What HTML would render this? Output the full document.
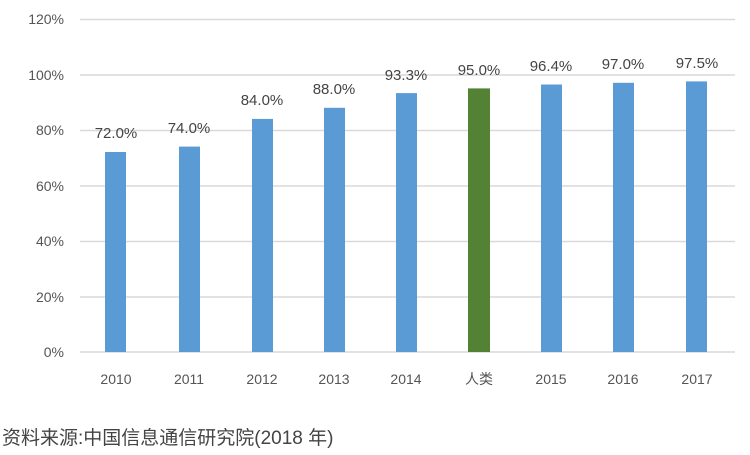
<!DOCTYPE html><html><head><meta charset="utf-8"><style>body{margin:0;background:#fff}svg{display:block}</style></head><body>
<svg width="750" height="455" xmlns="http://www.w3.org/2000/svg" font-family="Liberation Sans, Noto Sans CJK SC, sans-serif">
<g stroke="#d9d9d9" stroke-width="1.5">
<line x1="80" x2="735" y1="19.5" y2="19.5"/><line x1="80" x2="735" y1="75" y2="75"/><line x1="80" x2="735" y1="130.5" y2="130.5"/><line x1="80" x2="735" y1="186" y2="186"/><line x1="80" x2="735" y1="241.5" y2="241.5"/><line x1="80" x2="735" y1="297" y2="297"/><line x1="80" x2="735" y1="352" y2="352"/>
</g>
<g font-size="14" fill="#555" text-anchor="end">
<text x="64" y="24">120%</text><text x="64" y="80">100%</text><text x="64" y="135">80%</text><text x="64" y="191">60%</text><text x="64" y="246">40%</text><text x="64" y="302">20%</text><text x="64" y="357">0%</text>
</g>
<g fill="#5b9bd5">
<rect x="105" y="152" width="21" height="200"/><rect x="179" y="146.6" width="21" height="205.4"/><rect x="252" y="118.9" width="21" height="233.1"/><rect x="324" y="107.8" width="21" height="244.2"/><rect x="396" y="93.1" width="21" height="258.9"/>
<rect x="541" y="84.5" width="21" height="267.5"/><rect x="613" y="82.8" width="21" height="269.2"/><rect x="686" y="81.4" width="21" height="270.6"/>
</g>
<rect x="468" y="88.4" width="22" height="263.6" fill="#548235"/>
<g font-size="15" fill="#444" text-anchor="middle">
<text x="116" y="138">72.0%</text><text x="189" y="133">74.0%</text><text x="262" y="105">84.0%</text><text x="334" y="94">88.0%</text><text x="406" y="80">93.3%</text><text x="479" y="75">95.0%</text><text x="551" y="71">96.4%</text><text x="623" y="69">97.0%</text><text x="697" y="68">97.5%</text>
</g>
<g font-size="14" fill="#555" text-anchor="middle">
<text x="116" y="384">2010</text><text x="189" y="384">2011</text><text x="262" y="384">2012</text><text x="334" y="384">2013</text><text x="406" y="384">2014</text><text x="479" y="384">人类</text><text x="551" y="384">2015</text><text x="623" y="384">2016</text><text x="697" y="384">2017</text>
</g>
<text x="2" y="444" font-size="19" fill="#444">资料来源:中国信息通信研究院(2018 年)</text>
</svg>
</body></html>
